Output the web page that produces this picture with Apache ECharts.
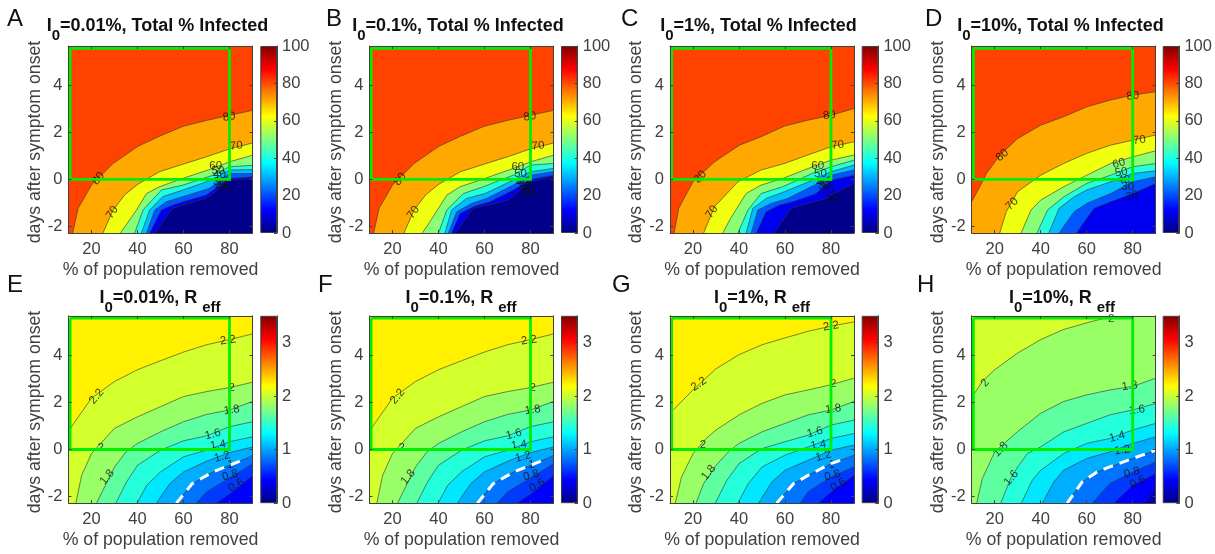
<!DOCTYPE html>
<html><head><meta charset="utf-8">
<style>html,body{margin:0;padding:0;background:#fff}#c{width:1215px;height:554px}</style>
<script src="https://cdn.jsdelivr.net/npm/echarts@6/dist/echarts.min.js"></script>
</head><body><div id="c"></div>
<script>
const xTicks=[20,40,60,80], yTicks=[-2,0,2,4];
const infectedTicks=[0,20,40,60,80,100], reffTicks=[0,1,2,3];
const greenBox=[[10.7,5.58],[80,5.58],[80,0],[10.7,0],[10.7,5.58]];
const jetStops=[[0,'#000080'],[0.125,'#0000ff'],[0.375,'#00ffff'],[0.625,'#ffff00'],[0.875,'#ff0000'],[1,'#800000']];

const infA=[[80,[[11.8,-2.28],[14.2,-1.23],[20,-.24],[29.4,.68],[40.2,1.41],[49.6,1.84],[59.8,2.26],[69.9,2.51],[80,2.73],[90,2.94]]],
[70,[[25,-2.28],[29.4,-1.3],[34.5,-.65],[40.2,-.2],[49.6,.33],[59.8,.65],[69.9,.96],[80,1.3],[90,1.55]]],
[60,[[32.6,-2.28],[36.6,-1.72],[39.6,-1.3],[43.9,-.6],[49.6,-.31],[58.3,0],[72.8,.47],[80,.75],[90,1.03]]],
[50,[[38.8,-2.28],[42.4,-1.3],[50.4,-.45],[59.8,-.24],[72.8,.18],[80,.54],[90,.6]]],
[40,[[41.7,-2.28],[45.3,-1.3],[51,-.73],[59.8,-.45],[72.8,0],[80,.4],[90,.42]]],
[30,[[43.9,-2.28],[47.5,-1.3],[52.5,-.95],[59.8,-.73],[71.3,-.38],[80,.25],[90,.25]]],
[20,[[45.3,-2.28],[50.4,-1.3],[55.4,-1.09],[59.8,-.95],[69.9,-.66],[80,.04],[90,.11]]],
[10,[[47.5,-2.28],[52.5,-1.6],[55.4,-1.23],[59.8,-1.09],[69.9,-.8],[72.8,-.6],[80,-.03],[90,.04]]]];
const infALabels=[[79.8,2.66,'80',8],[83,1.43,'70',6],[74,.56,'60',0],[75,.37,'50',0],[75.6,.18,'40',0],[75.6,-.1,'30',0],[76.4,-.22,'20',0],[77.4,-.34,'10',0],[23,.04,'80',50],[29,-1.4,'70',55]];

const infB=[infA[0],infA[1],
[60,[[33,-2.28],[36.3,-1.8],[43.6,-.67],[49.4,-.31],[58,-.03],[72.5,.47],[80,.75],[90,1.03]]],
[50,[[40,-2.28],[43.6,-1.3],[50.8,-.6],[59.5,-.31],[72.5,.18],[80,.61],[90,.68]]],
[40,[[42.8,-2.28],[45.7,-1.3],[52.2,-.81],[60.2,-.6],[72.5,-.03],[80,.33],[90,.47]]],
[30,[[44.3,-2.28],[47.9,-1.38],[54.4,-1.02],[60.9,-.81],[72.5,-.24],[80,.18],[90,.33]]],
[20,[[45.7,-2.28],[49.3,-1.45],[55.9,-1.13],[62.4,-.95],[72.5,-.45],[80,0],[90,.18]]],
[10,[[47.2,-2.28],[55.1,-1.23],[61.6,-1.09],[70.3,-.88],[79.7,-.1],[90,.11]]]];
const infBLabels=[[79.7,2.67,'80',8],[83.3,1.43,'70',6],[74.5,.54,'60',0],[75.7,.26,'50',0],[76.4,-.14,'40',0],[77.2,-.31,'30',0],[78.6,-.45,'20',0],[79.3,-.6,'10',0],[23.3,.01,'80',50],[29.1,-1.4,'70',55]];

const infC=[[80,[[11.8,-2.28],[13.8,-1.23],[20,-.1],[29.4,.75],[40.2,1.46],[49.6,1.82],[59.8,2.27],[69.9,2.52],[80,2.73],[90,3.02]]],
[70,[[24.6,-2.28],[29.4,-1.16],[39.5,-.1],[49.6,.4],[59.8,.68],[69.9,1.04],[80,1.39],[90,1.6]]],
[60,[[33,-2.28],[35.9,-1.73],[43.1,-.6],[49.6,-.24],[59,.04],[72,.54],[80,.82],[90,1.04]]],
[50,[[39.5,-2.28],[43.9,-1.3],[49.6,-.6],[59,-.31],[72,.26],[80,.54],[90,.82]]],
[40,[[43.1,-2.28],[46,-1.23],[51.8,-.81],[59.8,-.52],[72,-.03],[80,.33],[90,.61]]],
[30,[[45.3,-2.28],[48.2,-1.3],[54,-1.02],[61.2,-.81],[72.8,-.24],[80,.18],[90,.4]]],
[20,[[47.5,-2.28],[51.8,-1.38],[57.6,-1.09],[63.4,-.95],[73.5,-.6],[80,-.03],[90,.18]]],
[10,[[55.4,-2.28],[62.6,-1.23],[69.2,-1.05],[77.8,-.81],[80,-.67],[90,-.17]]]];
const infCLabels=[[79.3,2.73,'80',8],[82.9,1.46,'70',6],[74.2,.57,'60',0],[75.4,.26,'50',0],[76.4,-.14,'40',0],[77.1,-.28,'30',0],[78.6,-.45,'20',0],[80.7,-.81,'10',15],[23.2,.11,'80',50],[28.2,-1.38,'70',55]];

const infD=[[80,[[10,-.95],[13.5,-.31],[16.4,.25],[22.2,1.03],[30,1.74],[40,2.31],[50,2.67],[60,3.09],[70.4,3.38],[80,3.59],[90,3.73]]],
[70,[[22.2,-2.28],[25,-1.38],[30,-.52],[40,.18],[50,.68],[60,1.11],[70.4,1.46],[80,1.67],[90,1.89]]],
[60,[[31.5,-2.28],[35.8,-1.3],[40,-.88],[50,-.31],[60,.18],[70.4,.68],[80,.96],[90,1.22]]],
[50,[[38.4,-2.28],[43,-1.3],[50,-.74],[60,-.17],[70.4,.18],[80,.54],[90,.68]]],
[40,[[43.5,-2.28],[48,-1.23],[54.5,-.74],[60,-.45],[70.4,-.1],[80,.25],[90,.37]]],
[30,[[48,-2.28],[54.5,-1.38],[60,-1.02],[70.4,-.6],[80,-.1],[90,.11]]],
[20,[[55.5,-2.28],[63.2,-1.23],[70.4,-.95],[80,-.6],[90,-.17]]]];
const infDLabels=[[80.1,3.55,'80',8],[82.9,1.67,'70',6],[74,.68,'60',15],[75,.3,'50',10],[76.1,-.03,'40',0],[77.8,-.31,'30',0],[79.7,-.7,'20',15],[23.3,1.03,'80',40],[27.5,-1.05,'70',45]];

const refE=[[2.2,[[10,.75],[11.8,1.04],[20,2.18],[30,2.89],[40,3.39],[50,3.77],[60,4.14],[70,4.45],[80,4.67],[90,4.91]]],
[2,[[13.2,-2.28],[15.7,-1.1],[20,-.17],[30,.9],[40,1.39],[50,1.82],[60,2.25],[70,2.46],[80,2.63],[90,2.86]]],
[1.8,[[22.2,-2.28],[30,-.74],[35,-.1],[40,.26],[50,.75],[60,1.18],[70,1.49],[80,1.68],[90,2.04]]],
[1.6,[[30.6,-2.28],[35.2,-1.38],[40,-.67],[50,-.03],[60,.37],[70,.58],[80,.97],[90,1.18]]],
[1.4,[[39.8,-2.28],[44,-1.52],[50,-.95],[60,-.31],[70,-.03],[80,.33],[90,.54]]],
[1.2,[[48.2,-2.28],[54,-1.45],[60,-.95],[70,-.5],[80,-.13],[90,.11]]],
[1,[[56.9,-2.28],[63.8,-1.45],[72.8,-.95],[80,-.67],[87.2,-.38],[90,-.25]]],
[.8,[[65.5,-2.28],[70,-1.8],[80,-1.21],[90,-.6]]],
[.6,[[74.2,-2.28],[81.4,-1.8],[90,-1.1]]]];
const refELabels=[[79.3,4.64,'2.2',8],[22.2,2.25,'2.2',50],[81,2.63,'2',0],[24,.09,'2',0],[81,1.68,'1.8',8],[26.8,-1.17,'1.8',50],[72.8,.64,'1.6',15],[75,.19,'1.4',8],[76.8,-.31,'1.2',15],[80.3,-.64,'1',0],[80.3,-1.1,'0.8',15],[82.9,-1.52,'0.6',30]];

const refF=refE;
const refFLabels=[[79.3,4.64,'2.2',8],[22.2,2.25,'2.2',50],[81,2.63,'2',0],[24,.09,'2',0],[81,1.68,'1.8',8],[26.8,-1.17,'1.8',50],[72.8,.64,'1.6',15],[75,.19,'1.4',8],[76.8,-.31,'1.2',15],[80.3,-.64,'1',0],[80.3,-1.1,'0.8',15],[82.9,-1.52,'0.6',30]];

const refG=[[2.2,[[10,1.54],[20,2.53],[30,3.43],[40,4.03],[50,4.45],[60,4.74],[70,5.02],[80,5.24],[90,5.42]]],
[2,[[12.3,-2.28],[15,-1.17],[20,-.17],[25.4,.44],[30,.83],[40,1.47],[50,1.96],[60,2.32],[70,2.53],[80,2.75],[90,3.03]]],
[1.8,[[21.3,-2.28],[24.6,-1.45],[30,-.67],[35.4,-.1],[40,.26],[50,.75],[60,1.11],[70,1.47],[80,1.68],[90,2.04]]],
[1.6,[[29.7,-2.28],[34.7,-1.31],[40,-.6],[50,.04],[60,.33],[70,.61],[80,1.04],[90,1.25]]],
[1.4,[[39.5,-2.28],[44,-1.45],[50,-.74],[60,-.24],[70,.11],[80,.47],[90,.68]]],
[1.2,[[48.5,-2.28],[54.3,-1.38],[60,-.88],[70,-.46],[80,-.03],[90,.19]]],
[1,[[56.4,-2.28],[63.7,-1.45],[70,-1.1],[80,-.6],[86.8,-.36],[90,-.24]]],
[.8,[[66.5,-2.28],[70,-1.8],[80,-1.17],[90,-.74]]],
[.6,[[74.5,-2.28],[80,-1.8],[90,-1.1]]]];
const refGLabels=[[80,5.24,'2.2',8],[22.5,2.78,'2.2',35],[81,2.78,'2',0],[24.3,.19,'2',0],[81,1.72,'1.8',8],[26.8,-.98,'1.8',50],[73,.73,'1.6',15],[74.5,.19,'1.4',8],[76.7,-.28,'1.2',15],[80.3,-.64,'1',0],[80.6,-1.1,'0.8',15],[83.2,-1.5,'0.6',30]];

const refH=[[2,[[10,2.2],[14.6,2.89],[20,3.39],[30,4.1],[40,4.67],[50,5.1],[60,5.38],[71.7,5.68]]],
[1.8,[[12.2,-2.28],[14.6,-1.24],[20,-.1],[29.8,.75],[40,1.54],[50,2.04],[60,2.32],[70,2.53],[80,2.68],[90,3.03]]],
[1.6,[[22.6,-2.28],[26.9,-1.24],[30,-.74],[34.2,-.17],[40,.11],[50,.75],[60,1.11],[70,1.47],[80,1.68],[90,1.96]]],
[1.4,[[31.6,-2.28],[36.3,-1.31],[40,-.88],[50,-.17],[60,.26],[70,.47],[80,.83],[90,1.11]]],
[1.2,[[40.7,-2.28],[45.7,-1.38],[50,-.88],[60,-.38],[70,-.1],[80,.26],[90,.54]]],
[1,[[51.5,-2.28],[58,-1.38],[64.5,-.95],[70,-.74],[80,-.38],[90,-.03]]],
[.8,[[62.4,-2.28],[70,-1.45],[80,-.95],[90,-.53]]],
[.6,[[71.8,-2.28],[80,-1.52],[90,-1.02]]],
[.4,[[84.7,-2.28],[90,-1.66]]]];
const refHLabels=[[70.7,5.55,'2',0],[15.8,2.82,'2',50],[78.7,2.7,'1.8',8],[22.6,.01,'1.8',45],[81.9,1.68,'1.6',8],[27.2,-1.21,'1.6',50],[73.2,.54,'1.4',15],[75.4,-.03,'1.2',8],[79.7,-.98,'0.8',15],[82.2,-1.38,'0.6',25]];

const letters=['A','B','C','D','E','F','G','H'];
const infNames=['0.01','0.1','1','10'];
const panelLeft=[68.5,369.5,670,971.7], panelCenter=[[152.5,453,753.5,1055.5],[155,456,757,1057]];
const cbarLeft=[260.3,561,861.7,1162.7];
const letterLeft=[[7,326,621,925],[7,318,612,917]];
const panelData=[[infA,infALabels],[infB,infBLabels],[infC,infCLabels],[infD,infDLabels],[refE,refELabels],[refF,refFLabels],[refG,refGLabels],[refH,refHLabels]];

const FONT='"Liberation Sans",Arial,sans-serif', AX='#404040';
const XMIN=10,XMAX=90,YMIN=-2.28,YMAX=5.68;
function jet(t){
  t=Math.max(0,Math.min(1,t+.01));
  const f=(a,b,u)=>a+(b-a)*u;
  const c=[[0,0,0,.5],[.125,0,0,1],[.375,0,1,1],[.625,1,1,0],[.875,1,0,0],[1,.5,0,0]];
  for(let i=1;i<c.length;i++) if(t<=c[i][0]){
    const u=(t-c[i-1][0])/(c[i][0]-c[i-1][0]);
    return 'rgb('+[1,2,3].map(k=>Math.round(255*f(c[i-1][k],c[i][k],u))).join(',')+')';
  }
  return '#800000';
}
const opt={animation:false,backgroundColor:'#fff',title:[],grid:[],xAxis:[],yAxis:[],series:[],graphic:[]};
const axisBase={z:5,axisLine:{show:true,onZero:false,lineStyle:{color:AX,width:1}},splitLine:{show:false}};

panelData.forEach(([curves,labels],idx)=>{
  const col=idx%4,row=idx<4?0:1,isR=row===1;
  const top=row?315.8:46,h=row?187.4:187;
  const cmax=isR?3.5:100, step=isR?.2:10;
  const gi=opt.grid.length;
  opt.grid.push({left:panelLeft[col],top,width:184,height:h,containLabel:false});
  const xi=opt.xAxis.length, yi=opt.yAxis.length;
  opt.xAxis.push({...axisBase,type:'value',gridIndex:gi,min:XMIN,max:XMAX,position:'bottom',
    axisTick:{show:true,inside:true,length:3,lineStyle:{color:AX},customValues:xTicks},
    axisLabel:{show:true,customValues:xTicks,formatter:v=>String(v),color:AX,fontSize:16.5,fontFamily:FONT,margin:8},
    name:'% of population removed',nameLocation:'middle',nameGap:28,nameTextStyle:{color:AX,fontSize:17.7,fontFamily:FONT}});
  opt.xAxis.push({...axisBase,type:'value',gridIndex:gi,min:XMIN,max:XMAX,position:'top',
    axisTick:{show:true,inside:true,length:3,lineStyle:{color:AX},customValues:xTicks},axisLabel:{show:false}});
  opt.yAxis.push({...axisBase,type:'value',gridIndex:gi,min:YMIN,max:YMAX,position:'left',
    axisTick:{show:true,inside:true,length:3,lineStyle:{color:AX},customValues:yTicks},
    axisLabel:{show:true,customValues:yTicks,formatter:v=>String(v),color:AX,fontSize:16.5,fontFamily:FONT,margin:6},
    name:'days after symptom onset',nameLocation:'middle',nameGap:24,nameTextStyle:{color:AX,fontSize:17.7,fontFamily:FONT,padding:[0,5,0,0]}});
  opt.yAxis.push({...axisBase,type:'value',gridIndex:gi,min:YMIN,max:YMAX,position:'right',
    axisTick:{show:true,inside:true,length:3,lineStyle:{color:AX},customValues:yTicks},axisLabel:{show:false}});

  // filled bands, highest level first
  const bg=curves[0][0];
  opt.series.push({type:'custom',xAxisIndex:xi,yAxisIndex:yi,z:2,clip:true,silent:true,
    data:curves.map((c,i)=>[i]),
    renderItem:(p,api)=>{
      const i=api.value(0);
      const [lev,pts]=curves[i];
      const line=pts.map(q=>api.coord(q));
      let ring=pts.slice();
      if(pts[pts.length-1][0]<XMAX) ring.push([XMAX,YMAX]);
      ring.push([XMAX,YMIN]); ring.push([pts[0][0],YMIN]);
      const kids=[];
      if(i===0) kids.push({type:'polygon',shape:{points:[[XMIN,YMIN],[XMAX,YMIN],[XMAX,YMAX],[XMIN,YMAX]].map(q=>api.coord(q))},style:{fill:jet(bg/cmax)}});
      kids.push({type:'polygon',shape:{points:ring.map(q=>api.coord(q))},style:{fill:jet((lev-step)/cmax)}});
      kids.push({type:'polyline',shape:{points:line},style:{fill:null,stroke:'#333',lineWidth:.6}});
      return {type:'group',children:kids};
    }});
  // contour labels
  opt.series.push({type:'scatter',xAxisIndex:xi,yAxisIndex:yi,z:3,symbolSize:0,silent:true,
    data:labels.map(l=>({value:[l[0],l[1]],label:{show:true,position:'inside',formatter:l[2],rotate:l[3],color:'#111',fontSize:11.5,fontFamily:FONT}}))});
  // R=1 dashed
  if(isR){
    const one=curves.find(c=>c[0]===1)[1];
    opt.series.push({type:'line',xAxisIndex:xi,yAxisIndex:yi,z:4,symbol:'none',silent:true,data:idx===7?one:one.slice(0,-1),
      lineStyle:{color:'#fff',width:3,type:[10,7]}});
  }
  opt.series.push({type:'line',xAxisIndex:xi,yAxisIndex:yi,z:4,symbol:'none',silent:true,clip:false,data:greenBox,
    lineStyle:{color:'#00ee00',width:2.8,join:'miter'}});

  // colour bar
  const cg=opt.grid.length;
  opt.grid.push({left:cbarLeft[col],top,width:16.7,height:h});
  const cx=opt.xAxis.length, cy=opt.yAxis.length;
  opt.xAxis.push({type:'category',gridIndex:cg,data:['c'],show:false,boundaryGap:true});
  const ct=isR?reffTicks:infectedTicks;
  opt.yAxis.push({...axisBase,type:'value',gridIndex:cg,min:0,max:cmax,position:'right',
    axisTick:{show:true,inside:true,length:3,lineStyle:{color:AX},customValues:ct},
    axisLabel:{show:true,customValues:ct,formatter:v=>String(v),color:AX,fontSize:16.5,fontFamily:FONT,margin:5}});
  opt.series.push({type:'bar',xAxisIndex:cx,yAxisIndex:cy,barWidth:'100%',silent:true,data:[cmax],
    itemStyle:{borderColor:AX,borderWidth:1,color:{type:'linear',x:0,y:1,x2:0,y2:0,colorStops:jetStops.map(s=>({offset:s[0],color:s[1]}))}}});

  // title + letter
  const n=infNames[col];
  const txt=isR?`{b|I}{s|0}{b|=${n}%, R }{s|eff}`:`{b|I}{s|0}{b|=${n}%, Total % Infected}`;
  opt.title.push({text:txt,left:panelCenter[row][col],top:row?276:4,textAlign:'center',
    textStyle:{rich:{b:{fontSize:18,fontWeight:'bold',fontFamily:FONT,color:'#111',lineHeight:20},
      s:{fontSize:15,fontWeight:'bold',fontFamily:FONT,color:'#111',verticalAlign:'bottom',lineHeight:34}}}});
  opt.graphic.push({type:'text',left:letterLeft[row][col],top:row?273:7,style:{text:letters[idx],fontSize:24,fontFamily:FONT,fill:'#111'}});
});
echarts.init(document.getElementById('c'),null,{renderer:'canvas'}).setOption(opt);
</script></body></html>
